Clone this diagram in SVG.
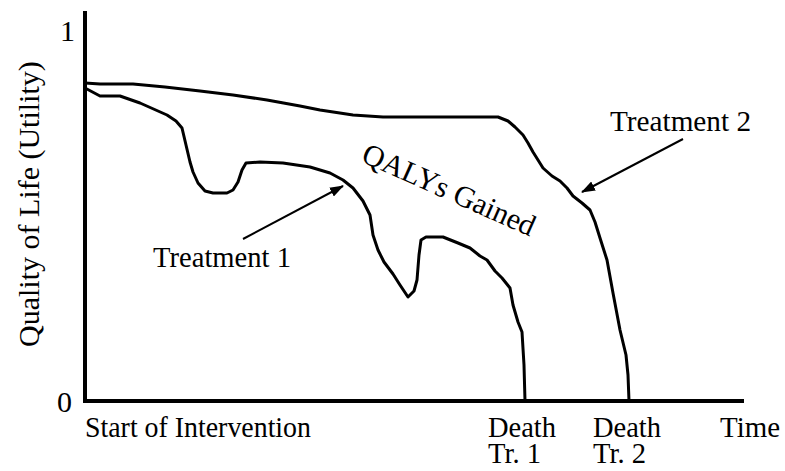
<svg xmlns="http://www.w3.org/2000/svg" width="785" height="471" viewBox="0 0 785 471">
  <style>
    .lbl { font-family: "Liberation Serif", "Times New Roman", serif; font-size: 30px; fill: #000; }
    .axis { stroke: #000; stroke-width: 4; fill: none; stroke-linecap: square; }
    .curve { stroke: #000; stroke-width: 3; fill: none; stroke-linejoin: round; stroke-linecap: round; }
    .pointer { stroke: #000; stroke-width: 2; fill: none; }
  </style>
  <defs>
    <marker id="head" viewBox="0 0 14 10" refX="13" refY="5" markerWidth="14" markerHeight="10" markerUnits="userSpaceOnUse" orient="auto">
      <path d="M0,0 L14,5 L0,10 Z" fill="#000"/>
    </marker>
  </defs>

  <rect width="785" height="471" fill="#fff"/>

  <!-- axes -->
  <g id="axes">
    <path class="axis" d="M85,13 L85,401 L742,401"/>
    <text class="lbl" x="60" y="41">1</text>
    <text class="lbl" x="57" y="412">0</text>
    <text class="lbl" transform="translate(39,347) rotate(-90)">Quality of Life (Utility)</text>
  </g>

  <!-- x-axis labels -->
  <g id="x-labels">
    <text class="lbl" x="85" y="437" textLength="226" lengthAdjust="spacingAndGlyphs">Start of Intervention</text>
    <text class="lbl"><tspan x="488" y="437" textLength="68" lengthAdjust="spacingAndGlyphs">Death</tspan><tspan x="488" y="463" textLength="53" lengthAdjust="spacingAndGlyphs">Tr. 1</tspan></text>
    <text class="lbl"><tspan x="593" y="437" textLength="68" lengthAdjust="spacingAndGlyphs">Death</tspan><tspan x="593" y="463" textLength="53" lengthAdjust="spacingAndGlyphs">Tr. 2</tspan></text>
    <text class="lbl" x="720" y="437" textLength="60" lengthAdjust="spacingAndGlyphs">Time</text>
  </g>

  <!-- treatment 2: upper curve -->
  <g id="treatment-2">
    <polyline class="curve" points="85,83 100,84 133,84 165,87 200,91 233,95 267,100 300,106 320,110 353,115 383,117 450,117 498,117 508,121 515,127 523,135 528,143 533,152 543,168 552,176 560,181 567,188 573,196 582,203 590,210 595,222 600,238 607,260 613,293 620,330 626,355 628,375 629,401"/>
    <text class="lbl" x="610" y="131" textLength="141" lengthAdjust="spacingAndGlyphs">Treatment 2</text>
  </g>

  <!-- treatment 1: lower curve -->
  <g id="treatment-1">
    <polyline class="curve" points="85,88 100,96 120,96 140,103 167,115 176,121 182,128 186,145 190,162 193,172 198,183 205,191 213,193 227,193 233,190 238,182 242,170 246,163 260,162 283,163 310,167 330,173 343,180 353,188 363,201 370,215 373,235 378,250 384,262 393,274 400,285 408,297 414,291 417,280 419,255 421,240 426,237 443,237 458,243 470,248 480,256 487,260 495,271 502,278 510,288 513,305 518,322 522,332 524,365 525,401"/>
    <text class="lbl" x="153" y="267" textLength="138" lengthAdjust="spacingAndGlyphs">Treatment 1</text>
  </g>

  <!-- area between the curves -->
  <g id="qalys">
    <text class="lbl" font-size="29" transform="translate(360,161) rotate(24)">QALYs Gained</text>
  </g>

  <!-- pointers from labels to curves -->
  <g id="connectors">
    <line class="pointer" x1="243" y1="239" x2="343" y2="186" marker-end="url(#head)"/>
    <line class="pointer" x1="683" y1="139" x2="582" y2="192" marker-end="url(#head)"/>
  </g>
</svg>
